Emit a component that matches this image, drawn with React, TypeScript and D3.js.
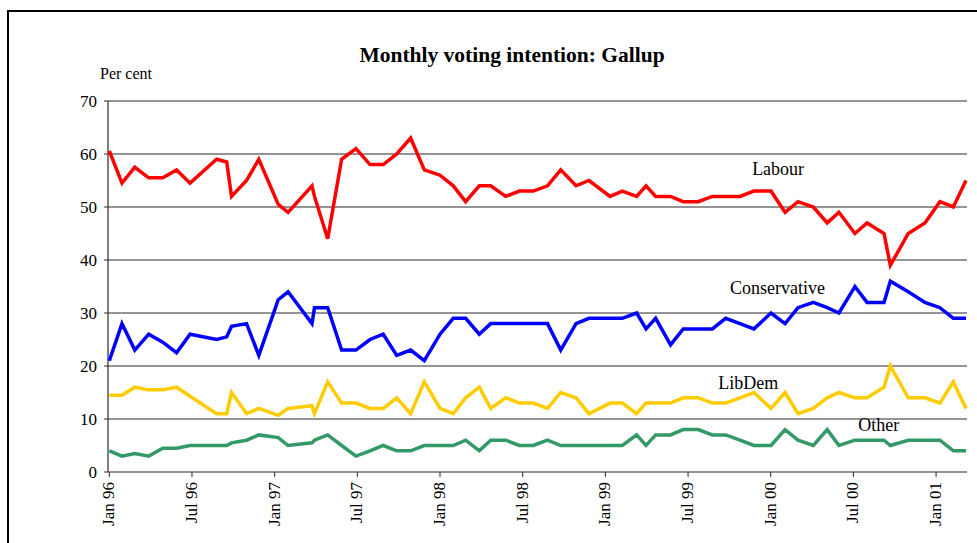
import React from "react";
import * as d3 from "d3";

// Poll dates as months since Jan 1996 (fractional where polls were irregular)
const months = [
  0, 0.92, 1.85, 2.86, 3.88, 4.88, 5.86, 7.79, 8.52, 8.87, 9.96, 10.85, 12.26, 12.97, 14.71, 14.89,
  15.85, 16.86, 17.9, 18.92, 19.88, 20.86, 21.87, 22.86, 24.0, 24.96, 25.86, 26.85, 27.68, 28.77,
  29.75, 30.77, 31.8, 32.76, 33.87, 34.81, 36.34, 37.23, 38.27, 38.95, 39.65, 40.73, 41.65, 42.74,
  43.76, 44.73, 45.77, 46.78, 48.02, 49.04, 49.98, 51.09, 52.1, 52.95, 54.11, 54.99, 56.22, 56.68,
  57.98, 59.19, 60.28, 61.25, 62.17,
];

const labour = [
  60.6, 54.5, 57.5, 55.5, 55.5, 57, 54.5, 59, 58.5, 52, 55, 59, 50.5, 49, 54, 52,
  44, 59, 61, 58, 58, 60, 63, 57, 56, 54, 51, 54, 54, 52,
  53, 53, 54, 57, 54, 55, 52, 53, 52, 54, 52, 52, 51, 51,
  52, 52, 52, 53, 53, 49, 51, 50, 47, 49, 45, 47, 45, 39,
  45, 47, 51, 50, 55,
];

const conservative = [
  21, 28, 23, 26, 24.5, 22.5, 26, 25, 25.5, 27.5, 28, 22, 32.5, 34, 28, 31,
  31, 23, 23, 25, 26, 22, 23, 21, 26, 29, 29, 26, 28, 28,
  28, 28, 28, 23, 28, 29, 29, 29, 30, 27, 29, 24, 27, 27,
  27, 29, 28, 27, 30, 28, 31, 32, 31, 30, 35, 32, 32, 36,
  34, 32, 31, 29, 29,
];

const libdem = [
  14.5, 14.5, 16, 15.5, 15.5, 16, 14.3, 11, 11, 15, 11, 12, 10.7, 12, 12.5, 11,
  17, 13, 13, 12, 12, 14, 11, 17, 12, 11, 14, 16, 12, 14,
  13, 13, 12, 15, 14, 11, 13, 13, 11, 13, 13, 13, 14, 14,
  13, 13, 14, 15, 12, 15, 11, 12, 14, 15, 14, 14, 16, 20,
  14, 14, 13, 17, 12,
];

const other = [
  4, 3, 3.5, 3, 4.5, 4.5, 5, 5, 5, 5.5, 6, 7, 6.5, 5, 5.5, 6,
  7, 5, 3, 4, 5, 4, 4, 5, 5, 5, 6, 4, 6, 6,
  5, 5, 6, 5, 5, 5, 5, 5, 7, 5, 7, 7, 8, 8,
  7, 7, 6, 5, 5, 8, 6, 5, 8, 5, 6, 6, 6, 5,
  6, 6, 6, 4, 4,
];

const seriesNames = ["Labour", "Conservative", "LibDem", "Other"];
const seriesColors = ["#ff0000", "#0000ff", "#ffcc00", "#339966"];
const seriesValues = [labour, conservative, libdem, other];

const xTickMonths = [0, 6, 12, 18, 24, 30, 36, 42, 48, 54, 60];
const xTickLabels = ["Jan 96", "Jul 96", "Jan 97", "Jul 97", "Jan 98", "Jul 98", "Jan 99", "Jul 99", "Jan 00", "Jul 00", "Jan 01"];
const yTicks = [0, 10, 20, 30, 40, 50, 60, 70];

// label anchors: [month, value]
const labelPositions: [number, number][] = [[46.65, 56.1], [45.05, 33.5], [44.2, 15.6], [54.35, 7.7]];

const W = 977;
const H = 543;
const font = "'Liberation Serif', 'Times New Roman', serif";

export default function App() {
  const x = d3.scaleLinear().domain([0, 62.2]).range([109.3, 966.4]);
  const y = d3.scaleLinear().domain([0, 70]).range([472, 101]);
  const line = d3
    .line<number>()
    .x((_, i) => x(months[i]))
    .y((d) => y(d));

  const axisX = 108;
  const right = 967;

  return (
    <div style={{ position: "absolute", left: 0, top: 0, width: W, height: H, background: "#fff" }}>
      <svg width={W} height={H} style={{ display: "block", fontFamily: font }}>
        <rect x={0} y={0} width={W} height={H} fill="#fff" />
        <rect x={8} y={11} width={W + 20} height={H + 20} fill="none" stroke="#000" strokeWidth={2} />
        <text x={512} y={62} textAnchor="middle" fontSize={21.5} fontWeight="bold">
          Monthly voting intention: Gallup
        </text>
        <text x={100} y={79} fontSize={16}>
          Per cent
        </text>
        {yTicks.map((t) => (
          <g key={t}>
            {t > 0 && (
              <line x1={axisX} x2={right} y1={y(t)} y2={y(t)} stroke="#2a2a2a" strokeWidth={1} />
            )}
            <line x1={axisX - 4} x2={axisX} y1={y(t)} y2={y(t)} stroke="#2a2a2a" strokeWidth={1} />
            <text x={97} y={y(t)} dy="0.35em" textAnchor="end" fontSize={17}>
              {t}
            </text>
          </g>
        ))}
        <line x1={axisX} x2={axisX} y1={y(70)} y2={y(0)} stroke="#2a2a2a" strokeWidth={1.2} />
        <line x1={axisX} x2={right} y1={y(0)} y2={y(0)} stroke="#2a2a2a" strokeWidth={1.2} />
        {xTickMonths.map((m, i) => (
          <g key={m}>
            <line x1={x(m)} x2={x(m)} y1={y(0)} y2={y(0) + 5} stroke="#2a2a2a" strokeWidth={1} />
            <text
              transform={`translate(${x(m) - 1},${482}) rotate(-90)`}
              textAnchor="end"
              dy="0.35em"
              fontSize={17}
            >
              {xTickLabels[i]}
            </text>
          </g>
        ))}
        {seriesValues.map((vals, i) => (
          <path
            key={seriesNames[i]}
            d={line(vals) || ""}
            fill="none"
            stroke={seriesColors[i]}
            strokeWidth={3.5}
            strokeLinejoin="miter"
          />
        ))}
        {seriesNames.map((n, i) => (
          <text key={n} x={x(labelPositions[i][0])} y={y(labelPositions[i][1])} fontSize={18}>
            {n}
          </text>
        ))}
      </svg>
    </div>
  );
}
